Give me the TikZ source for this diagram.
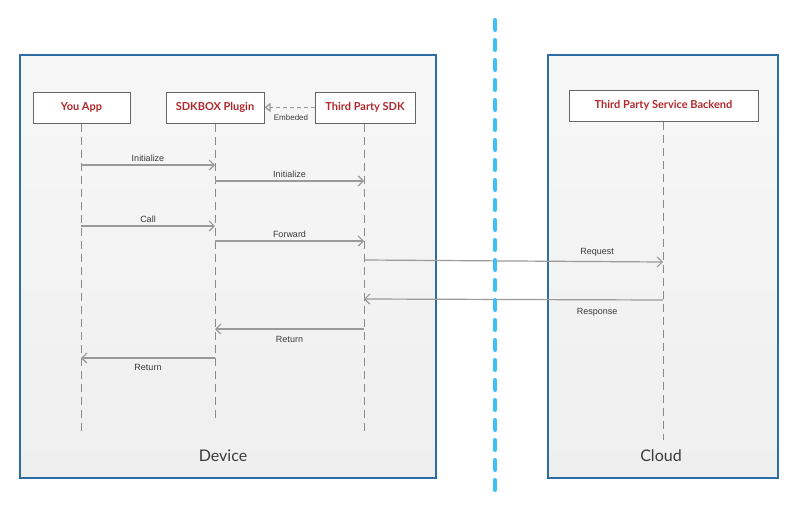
\documentclass[tikz,border=0pt]{standalone}
\usepackage{fontspec}
\setmainfont{Liberation Sans}
\newfontfamily\latofont{Lato}
\usetikzlibrary{arrows.meta}
\definecolor{boxblue}{HTML}{2E6DA4}
\definecolor{sepblue}{HTML}{3FBFF3}
\definecolor{lblred}{HTML}{B0282C}
\definecolor{linegray}{HTML}{9A9A9A}
\definecolor{lifegray}{HTML}{8A8A8A}
\definecolor{areatop}{HTML}{F7F7F7}
\definecolor{areabot}{HTML}{EFEFEF}
\definecolor{txtgray}{HTML}{3A3A3A}
\tikzset{
  area/.style={draw=boxblue, line width=1.3pt, top color=areatop, bottom color=areabot},
  actor/.style={draw=gray!80!black, line width=1pt, fill=white, minimum height=31pt, font=\latofont\bfseries\fontsize{11}{13}\selectfont, text=lblred, inner sep=0pt},
  lifeline/.style={draw=lifegray, line width=0.9pt, dash pattern=on 8pt off 5pt},
  msg/.style={draw=linegray, line width=1.2pt, -{Straight Barb[length=5pt,width=10pt,line width=1.2pt]}},
  lbl/.style={font=\fontsize{9}{11}\selectfont, text=txtgray, inner sep=1pt},
  arealbl/.style={font=\latofont\fontsize{16}{18}\selectfont, text=txtgray}
}
\begin{document}
\begin{tikzpicture}[x=1pt,y=-1pt]
\useasboundingbox (0,0) rectangle (800,509);
\fill[white] (0,0) rectangle (800,509);
% areas
\path[area] (20,55) rectangle (436,478);
\path[area] (548,55) rectangle (778,478);
\node[arealbl] (dev) at (223,456) {Device};
\node[arealbl] (cld) at (661,456) {Cloud};
% actors
\node[actor, minimum width=97pt] (app) at (81.5,107.5) {You App};
\node[actor, minimum width=98pt] (plug) at (215,107.5) {SDKBOX Plugin};
\node[actor, minimum width=100pt] (sdk) at (365,107.5) {Third Party SDK};
\node[actor, minimum width=189pt] (back) at (663.5,105.5) {Third Party Service Backend};
% lifeline ends
\coordinate (appE) at (81,431);
\coordinate (plugE) at (215,418);
\coordinate (sdkE) at (364,431);
\coordinate (backE) at (663,440);
\draw[lifeline] (app.south -| appE) -- (appE);
\draw[lifeline] (plug.south -| plugE) -- (plugE);
\draw[lifeline] (sdk.south -| sdkE) -- (sdkE);
\draw[lifeline] (back.south -| backE) -- (backE);
% embeded
\draw[draw=linegray, line width=1.2pt, dash pattern=on 4pt off 3pt, -{Triangle[open,length=6pt,width=9pt,line width=1.2pt]}] (sdk.west) -- (plug.east);
\node[lbl, font=\fontsize{8}{9}\selectfont] (emb) at (291,117.5) {Embeded};
% messages
\coordinate (a1) at (81,165); \coordinate (b1) at (215,165);
\draw[msg] (a1) -- node[lbl, above=1.5pt] {Initialize} (b1);
\coordinate (a2) at (215,181); \coordinate (b2) at (364,181);
\draw[msg] (a2) -- node[lbl, above=1.5pt] {Initialize} (b2);
\coordinate (a3) at (81,226); \coordinate (b3) at (215,226);
\draw[msg] (a3) -- node[lbl, above=1.5pt] {Call} (b3);
\coordinate (a4) at (215,241); \coordinate (b4) at (364,241);
\draw[msg] (a4) -- node[lbl, above=1.5pt] {Forward} (b4);
\coordinate (a5) at (364,260); \coordinate (b5) at (663,262);
\draw[msg] (a5) -- node[lbl, above=4pt, pos=0.78] {Request} (b5);
\coordinate (a6) at (663,300); \coordinate (b6) at (364,299);
\draw[msg] (a6) -- node[lbl, below=7pt, pos=0.22] {Response} (b6);
\coordinate (a7) at (364,329); \coordinate (b7) at (215,329);
\draw[msg] (a7) -- node[lbl, below=6pt, pos=0.5] {Return} (b7);
\coordinate (a8) at (215,358); \coordinate (b8) at (81,358);
\draw[msg] (a8) -- node[lbl, below=5pt, pos=0.5] {Return} (b8);
% separator
\coordinate (s1) at (495,20); \coordinate (s2) at (495,494);
\draw[sepblue, line width=4pt, line cap=round, dash pattern=on 10pt off 10pt] (s1) -- (s2);
\end{tikzpicture}
\end{document}
